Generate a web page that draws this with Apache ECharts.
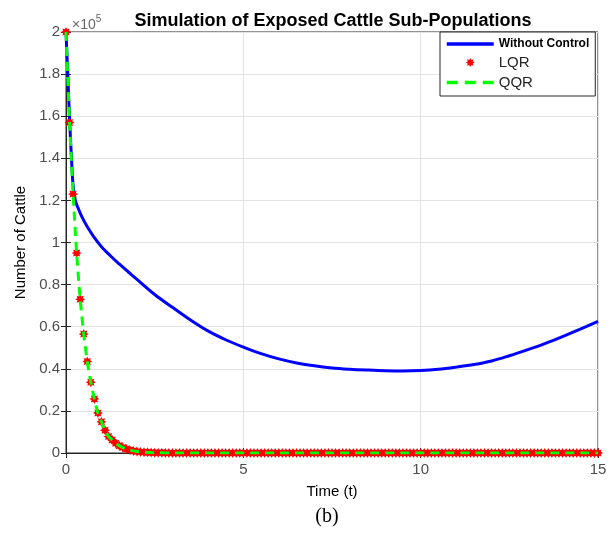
<!DOCTYPE html>
<html>
<head>
<meta charset="utf-8">
<script src="https://cdn.jsdelivr.net/npm/echarts@6/dist/echarts.min.js"></script>
<style>
  html, body { margin: 0; padding: 0; background: #fff; }
  #chart { width: 616px; height: 533px; }
</style>
</head>
<body>
<div id="chart"></div>
<script>
// values are in units of 1e5 cattle (axis shows x10^5)
var xTicks = [0, 5, 10, 15];

// Without Control
var noCtrlTime = [0, 0.05, 0.1, 0.15, 0.2, 0.25, 0.3, 0.35, 0.4, 0.5, 0.6, 0.8, 1.0, 1.25, 1.5, 1.75, 2,
    2.5, 3, 3.5, 4, 4.5, 5, 5.5, 6, 6.5, 7, 7.5, 8, 8.5, 9, 9.5, 10, 10.5, 11, 11.5, 12, 12.5,
    13, 13.5, 14, 14.5, 15];
var noCtrlValue = [2.0, 1.80, 1.59, 1.415, 1.27, 1.21, 1.18, 1.16, 1.14, 1.105, 1.075, 1.023, 0.98, 0.937, 0.898, 0.861, 0.825,
    0.753, 0.692, 0.633, 0.58, 0.538, 0.503, 0.472, 0.447, 0.428, 0.414, 0.404, 0.398, 0.394, 0.391, 0.39, 0.392, 0.398, 0.408, 0.42, 0.437, 0.462,
    0.49, 0.52, 0.553, 0.588, 0.625];

// LQR, one marker every 0.1 time units from 0 to 15
var lqrStep = 0.1;
var lqrValue = [
    2.00, 1.57, 1.23, 0.95, 0.73, 0.565, 0.435, 0.336, 0.257, 0.19,
    0.148, 0.108, 0.078, 0.062, 0.046, 0.035, 0.026, 0.019, 0.014, 0.010,
    0.007, 0.005, 0.004, 0.003, 0.002, 0.0015, 0.001, 0.0008, 0.0005, 0.0003,
    0.0002, 0, 0, 0, 0, 0, 0, 0, 0, 0,
    0, 0, 0, 0, 0, 0, 0, 0, 0, 0,
    0, 0, 0, 0, 0, 0, 0, 0, 0, 0,
    0, 0, 0, 0, 0, 0, 0, 0, 0, 0,
    0, 0, 0, 0, 0, 0, 0, 0, 0, 0,
    0, 0, 0, 0, 0, 0, 0, 0, 0, 0,
    0, 0, 0, 0, 0, 0, 0, 0, 0, 0,
    0, 0, 0, 0, 0, 0, 0, 0, 0, 0,
    0, 0, 0, 0, 0, 0, 0, 0, 0, 0,
    0, 0, 0, 0, 0, 0, 0, 0, 0, 0,
    0, 0, 0, 0, 0, 0, 0, 0, 0, 0,
    0, 0, 0, 0, 0, 0, 0, 0, 0, 0,
    0
];

// QQR
var qqrTime = [0, 0.1, 0.2, 0.3, 0.4, 0.5, 0.6, 0.7, 0.8, 0.9, 1.0, 1.1, 1.2, 1.3, 1.4, 1.5,
    1.6, 1.7, 1.8, 1.9, 2.0, 2.2, 2.4, 2.6, 2.8, 3.0, 15];
var qqrValue = [2.00, 1.57, 1.23, 0.95, 0.73, 0.565, 0.435, 0.336, 0.257, 0.19, 0.148, 0.108, 0.078, 0.062, 0.046, 0.035,
    0.026, 0.019, 0.014, 0.010, 0.007, 0.004, 0.002, 0.001, 0.0005, 0, 0];

var font = "'Liberation Sans', Arial, Helvetica, sans-serif";
var axisColor = '#262626';
var labelColor = '#4d4d4d';
// fat 8-point star, close to MATLAB's '*' marker
var starPath = 'path://M10,0L12.3,4.46L17.07,2.93L15.54,7.7L20,10L15.54,12.3L17.07,17.07L12.3,15.54L10,20L7.7,15.54L2.93,17.07L4.46,12.3L0,10L4.46,7.7L2.93,2.93L7.7,4.46Z';

function pairs(xs, ys) {
    return ys.map(function (y, i) { return [xs[i], y]; });
}

var lqrData = lqrValue.map(function (v, i) { return [+(i * lqrStep).toFixed(1), v]; });

var chart = echarts.init(document.getElementById('chart'));

var option = {
    animation: false,
    backgroundColor: '#fff',
    title: [
        {
            text: 'Simulation of Exposed Cattle Sub-Populations',
            left: 328, top: 7, textAlign: 'center',
            textStyle: { fontFamily: font, fontWeight: 'bold', fontSize: 18, color: '#000' }
        },
        {
            text: '{a|\u00d710}{b|5}',
            left: 67, top: 9,
            textStyle: {
                fontWeight: 'normal',
                rich: {
                    a: { fontFamily: font, fontSize: 14, fontWeight: 'normal', color: '#666', lineHeight: 18, verticalAlign: 'bottom' },
                    b: { fontFamily: font, fontSize: 10, fontWeight: 'normal', color: '#666', lineHeight: 18, verticalAlign: 'top' }
                }
            }
        },
        {
            text: '(b)',
            left: 322, top: 502, textAlign: 'center',
            textStyle: { fontFamily: "'Liberation Serif', 'Times New Roman', serif", fontWeight: 'normal', fontSize: 20, color: '#000' }
        }
    ],
    legend: {
        orient: 'vertical',
        left: 440, top: 32,
        itemWidth: 47, itemHeight: 9, itemGap: 5,
        padding: [6, 6, 6, 5],
        backgroundColor: '#fff',
        borderColor: axisColor, borderWidth: 1,
        data: [
            // line-only icons: hide the symbol the line series puts in its legend icon
            { name: 'Without Control', itemStyle: { opacity: 0 }, lineStyle: { width: 3.5 } },
            { name: 'LQR', icon: starPath },
            { name: 'QQR', itemStyle: { opacity: 0 }, lineStyle: { width: 3.5, type: [11, 7] } }
        ],
        formatter: function (name) {
            return name === 'Without Control' ? '{b|' + name + '}' : '{n|' + name + '}';
        },
        textStyle: {
            rich: {
                b: { fontFamily: font, fontSize: 12, fontWeight: 'bold', color: '#000' },
                n: { fontFamily: font, fontSize: 15, color: '#262626' }
            }
        }
    },
    grid: {
        left: 66, right: 18, top: 32, bottom: 80,
        show: true, borderColor: axisColor, borderWidth: 1, backgroundColor: 'transparent'
    },
    xAxis: [
        {
            type: 'value', min: 0, max: 15, interval: 5,
            name: 'Time (t)', nameLocation: 'middle', nameGap: 31,
            nameTextStyle: { fontFamily: font, fontSize: 15, color: '#000' },
            axisLine: { show: true, lineStyle: { color: axisColor, width: 1 } },
            axisTick: { show: true, inside: true, length: 5, lineStyle: { color: axisColor } },
            axisLabel: {
                margin: 9, fontFamily: font, fontSize: 15, color: labelColor,
                formatter: function (v) { return xTicks.indexOf(v) >= 0 ? String(v) : ''; }
            },
            splitLine: { show: true, lineStyle: { color: '#e3e3e3', width: 1 } }
        },
        {
            type: 'value', min: 0, max: 15, interval: 5, position: 'top',
            axisLine: { show: true, lineStyle: { color: axisColor, width: 1 } },
            axisTick: { show: true, inside: true, length: 5, lineStyle: { color: axisColor } },
            axisLabel: { show: false },
            splitLine: { show: false }
        }
    ],
    yAxis: [
        {
            type: 'value', min: 0, max: 2, interval: 0.2,
            name: 'Number of Cattle', nameLocation: 'middle', nameGap: 36,
            nameTextStyle: { fontFamily: font, fontSize: 15, color: '#000' },
            axisLine: { show: true, lineStyle: { color: axisColor, width: 1 } },
            axisTick: { show: true, inside: true, length: 5, lineStyle: { color: axisColor } },
            axisLabel: { margin: 6, fontFamily: font, fontSize: 15, color: labelColor },
            splitLine: { show: true, lineStyle: { color: '#e3e3e3', width: 1 } }
        },
        {
            type: 'value', min: 0, max: 2, interval: 0.2, position: 'right',
            axisLine: { show: true, lineStyle: { color: axisColor, width: 1 } },
            axisTick: { show: true, inside: true, length: 5, lineStyle: { color: axisColor } },
            axisLabel: { show: false },
            splitLine: { show: false }
        }
    ],
    series: [
        {
            name: 'Without Control',
            type: 'line',
            data: pairs(noCtrlTime, noCtrlValue),
            showSymbol: false, symbol: 'none',
            smooth: 0.35,
            lineStyle: { color: '#0000ff', width: 3 },
            itemStyle: { color: '#0000ff' },
            z: 3
        },
        {
            name: 'LQR',
            type: 'scatter',
            data: lqrData,
            symbol: starPath,
            symbolSize: 10,
            itemStyle: { color: '#ff0000', opacity: 1 },
            z: 4
        },
        {
            name: 'QQR',
            type: 'line',
            data: pairs(qqrTime, qqrValue),
            showSymbol: false, symbol: 'none',
            smooth: 0.2,
            lineStyle: { color: '#00ff00', width: 3, type: [9, 6] },
            itemStyle: { color: '#00ff00' },
            z: 5
        }
    ]
};

chart.setOption(option);
</script>
</body>
</html>
